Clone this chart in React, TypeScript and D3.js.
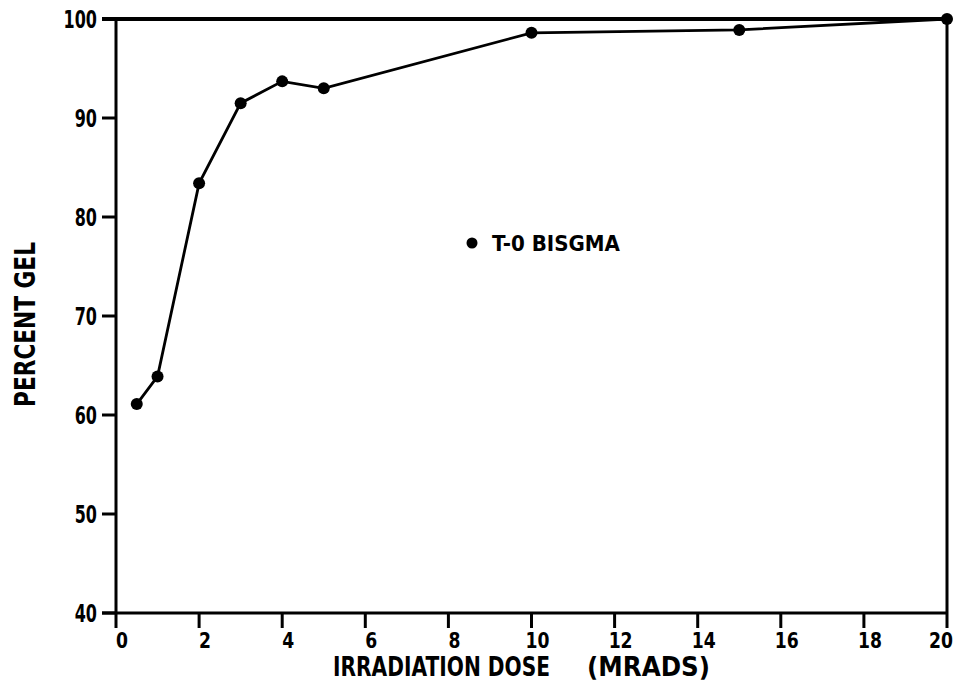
import React, { useEffect, useRef } from "react";
import * as d3 from "d3";

// dose (Mrads) vs percent gel
const doses = [0.5, 1, 2, 3, 4, 5, 10, 15, 20];
const gel = [61.1, 63.9, 83.4, 91.5, 93.7, 93.0, 98.6, 98.9, 100];
const xTicks = [0, 2, 4, 6, 8, 10, 12, 14, 16, 18, 20];
const yTicks = [40, 50, 60, 70, 80, 90, 100];
const seriesName = "T-0 BISGMA";
const xTitle = "IRRADIATION DOSE";
const xUnit = "(MRADS)";
const yTitle = "PERCENT GEL";

const App = () => {
    const svgRef = useRef<SVGSVGElement>(null);
    const width = 960;
    const height = 681;
    const margin = { top: 19, right: 13, bottom: 68, left: 116 };
    const font = "'DejaVu Sans', sans-serif";

    useEffect(() => {
        const svg = d3.select(svgRef.current);
        svg.selectAll("*").remove();

        const x = d3
            .scaleLinear()
            .domain([0, 20])
            .range([margin.left, width - margin.right]);
        const y = d3
            .scaleLinear()
            .domain([40, 100])
            .range([height - margin.bottom, margin.top]);

        const g = svg.append("g");

        // frame: left axis, bottom axis, right and top borders
        const x0 = x(0), x1 = x(20), y0 = y(40), y1 = y(100);
        g.append("line").attr("x1", x0).attr("x2", x0).attr("y1", y1).attr("y2", y0)
            .attr("stroke", "#000").attr("stroke-width", 3);
        g.append("line").attr("x1", x0 - 14).attr("x2", x1).attr("y1", y0).attr("y2", y0)
            .attr("stroke", "#000").attr("stroke-width", 3);
        g.append("line").attr("x1", x1).attr("x2", x1).attr("y1", y1).attr("y2", y0)
            .attr("stroke", "#000").attr("stroke-width", 3);
        g.append("line").attr("x1", x0 - 14).attr("x2", x1).attr("y1", y1).attr("y2", y1)
            .attr("stroke", "#000").attr("stroke-width", 4);

        // y ticks + labels
        yTicks.forEach((t) => {
            g.append("line").attr("x1", x0 - 14).attr("x2", x0).attr("y1", y(t)).attr("y2", y(t))
                .attr("stroke", "#000").attr("stroke-width", 3);
            g.append("g")
                .attr("transform", `translate(${x0 - 19},${y(t) + 9}) scale(0.64,1)`)
                .append("text")
                .attr("text-anchor", "end")
                .attr("font-family", font)
                .attr("font-weight", "bold")
                .attr("font-size", 25)
                .text(t);
        });

        // x ticks + labels
        xTicks.forEach((t, i) => {
            g.append("line").attr("x1", x(t)).attr("x2", x(t)).attr("y1", y0).attr("y2", y0 + 15)
                .attr("stroke", "#000").attr("stroke-width", 3);
            const dx = i === xTicks.length - 1 ? -6 : 6;
            g.append("g")
                .attr("transform", `translate(${x(t) + dx},${y0 + 35}) scale(0.82,1)`)
                .append("text")
                .attr("text-anchor", "middle")
                .attr("font-family", font)
                .attr("font-weight", "bold")
                .attr("font-size", 21)
                .text(t);
        });

        // data line and points
        const pts = doses.map((d, i) => [d, gel[i]] as [number, number]);
        const line = d3.line<[number, number]>()
            .x((d) => x(d[0]))
            .y((d) => y(d[1]));
        g.append("path")
            .datum(pts)
            .attr("d", line)
            .attr("fill", "none")
            .attr("stroke", "#000")
            .attr("stroke-width", 2.8);
        g.selectAll(".pt")
            .data(pts)
            .enter()
            .append("circle")
            .attr("class", "pt")
            .attr("cx", (d) => x(d[0]))
            .attr("cy", (d) => y(d[1]))
            .attr("r", 6)
            .attr("fill", "#000");

        // legend
        g.append("circle").attr("cx", 472).attr("cy", 243).attr("r", 5.5).attr("fill", "#000");
        g.append("text")
            .attr("x", 492).attr("y", 251)
            .attr("font-family", font)
            .attr("font-weight", "bold")
            .attr("font-size", 21)
            .attr("textLength", 128)
            .attr("lengthAdjust", "spacingAndGlyphs")
            .text(seriesName);

        // axis titles
        g.append("text")
            .attr("x", 333).attr("y", 676)
            .attr("font-family", font)
            .attr("font-weight", "bold")
            .attr("font-size", 27)
            .attr("textLength", 217)
            .attr("lengthAdjust", "spacingAndGlyphs")
            .text(xTitle);
        g.append("text")
            .attr("x", 587).attr("y", 676)
            .attr("font-family", font)
            .attr("font-weight", "bold")
            .attr("font-size", 27)
            .attr("textLength", 123)
            .attr("lengthAdjust", "spacingAndGlyphs")
            .text(xUnit);
        g.append("text")
            .attr("transform", "translate(35,407) rotate(-90)")
            .attr("font-family", font)
            .attr("font-weight", "bold")
            .attr("font-size", 29)
            .attr("textLength", 165)
            .attr("lengthAdjust", "spacingAndGlyphs")
            .text(yTitle);
    }, []);

    return (
        <svg
            ref={svgRef}
            width={width}
            height={height}
            style={{ position: "absolute", left: 0, top: 0, background: "#fff" }}
        ></svg>
    );
};

export default App;
